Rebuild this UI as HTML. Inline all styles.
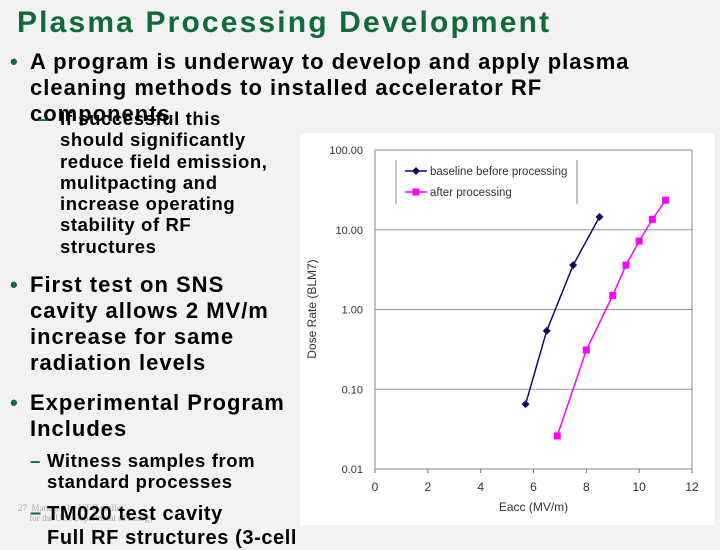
<!DOCTYPE html>
<html><head><meta charset="utf-8"><style>
body{margin:0;width:720px;height:540px;overflow:hidden;background:#f2f2f2;font-family:"Liberation Sans",Arial,sans-serif;position:relative}
.t{position:absolute;white-space:nowrap;font-weight:bold;color:#000}
.b{font-size:22px;line-height:26px;letter-spacing:1px}
.s{font-size:18.5px;line-height:21.3px;letter-spacing:0.6px}
.m{position:absolute;color:#0f6b3a;font-weight:bold}
</style></head><body>
<div class="t" style="left:17px;top:6px;font-size:30px;letter-spacing:2.15px;color:#0f6b3a">Plasma Processing Development</div>
<div class="m" style="left:10px;top:49px;font-size:22px">•</div>
<div class="t b" style="left:30px;top:49px">A program is underway to develop and apply plasma<br>cleaning methods to installed accelerator RF<br>components</div>
<div class="m" style="left:38px;top:108px;font-size:18.5px">–</div>
<div class="t s" style="left:60px;top:108px">If successful this<br>should significantly<br>reduce field emission,<br>mulitpacting and<br>increase operating<br>stability of RF<br>structures</div>
<div class="m" style="left:10px;top:272px;font-size:22px">•</div>
<div class="t b" style="left:30px;top:272px">First test on SNS<br>cavity allows 2 MV/m<br>increase for same<br>radiation levels</div>
<div class="m" style="left:10px;top:390px;font-size:22px">•</div>
<div class="t b" style="left:30px;top:390px">Experimental Program<br>Includes</div>
<div class="m" style="left:30px;top:450px;font-size:18.5px">–</div>
<div class="t s" style="left:47px;top:450px">Witness samples from<br>standard processes</div>
<div class="t" style="left:18px;top:503px;font-size:9px;font-weight:normal;color:#aaa;font-family:'Liberation Serif',serif">27 &nbsp;Managed by UT-Battelle<br>&nbsp;&nbsp;&nbsp;&nbsp; for the U.S. Department of Energy</div>
<div class="m" style="left:30px;top:502px;font-size:20px">–</div>
<div class="t s" style="left:47px;top:502px;font-size:20px;line-height:24px">TM020 test cavity<br>Full RF structures (3-cell</div>
<svg width="720" height="540" style="position:absolute;left:0;top:0" font-family="Liberation Sans,Arial,sans-serif">
<rect x="300" y="133" width="415" height="392" fill="#fff"/>
<g id="g"></g>
</svg>
<script>
const xTicks=[0,2,4,6,8,10,12];
const yTicks=[0.01,0.1,1,10,100];
const yTickLabels=["0.01","0.10","1.00","10.00","100.00"];
const baselineX=[5.7,6.5,7.5,8.5];
const baselineY=[0.065,0.54,3.6,14.5];
const afterX=[6.9,8,9,9.5,10,10.5,11];
const afterY=[0.026,0.31,1.5,3.6,7.2,13.5,23.5];
const L=375,R=692,T=150,B=469;
const sx=v=>L+(v-0)/12*(R-L);
const sy=v=>B-(Math.log10(v)+2)/4*(B-T);
const g=document.getElementById('g');const NS='http://www.w3.org/2000/svg';
function el(t,a,p){const e=document.createElementNS(NS,t);for(const k in a)e.setAttribute(k,a[k]);(p||g).appendChild(e);return e;}
let e;
yTicks.forEach((v,i)=>{
 if(i>0&&i<yTicks.length-1){e=el('line',{x1:L,x2:R,y1:sy(v),y2:sy(v),stroke:'#999','stroke-width':1});
 }
 e=el('text',{x:L-12,y:sy(v)+4,'text-anchor':'end','font-size':11,fill:'#333'});e.textContent=yTickLabels[i];
 
});
xTicks.forEach(v=>{
 e=el('line',{x1:sx(v),x2:sx(v),y1:B,y2:B+4,stroke:'#777'});
 
 e=el('text',{x:sx(v),y:B+22,'text-anchor':'middle','font-size':12,fill:'#333'});e.textContent=v;
 
});
e=el('rect',{x:L,y:T,width:R-L,height:B-T,fill:'none',stroke:'#888'});

e=el('text',{x:(L+R)/2,y:511,'text-anchor':'middle','font-size':12,fill:'#333'});e.textContent='Eacc (MV/m)';

e=el('text',{x:0,y:0,'text-anchor':'middle','font-size':12,fill:'#333',transform:'translate(316,309) rotate(-90)'});e.textContent='Dose Rate (BLM7)';

function series(xs,ys,col,shape,name){
 e=el('polyline',{points:xs.map((x,i)=>sx(x)+','+sy(ys[i])).join(' '),fill:'none',stroke:col,'stroke-width':1.5});
 
 xs.forEach((x,i)=>{const cx=sx(x),cy=sy(ys[i]);
  if(shape==='d')e=el('polygon',{points:`${cx},${cy-4} ${cx+4},${cy} ${cx},${cy+4} ${cx-4},${cy}`,fill:col});
  else e=el('rect',{x:cx-3.5,y:cy-3.5,width:7,height:7,fill:col});
  });
}
series(baselineX,baselineY,'#0c0c66','d','baseline');
series(afterX,afterY,'#ff00ff','s','after');
e=el('line',{x1:396,x2:396,y1:160,y2:204,stroke:'#888'});
e=el('line',{x1:577,x2:577,y1:160,y2:204,stroke:'#888'});
[['baseline before processing','#0c0c66','d',171],['after processing','#ff00ff','s',192]].forEach(([t,c,s,y])=>{
 e=el('line',{x1:405,x2:427,y1:y,y2:y,stroke:c,'stroke-width':1.5});
 if(s==='d')e=el('polygon',{points:`416,${y-4} 420,${y} 416,${y+4} 412,${y}`,fill:c});else e=el('rect',{x:412.5,y:y-3.5,width:7,height:7,fill:c});
 
 e=el('text',{x:430,y:y+4,'font-size':11.5,fill:'#333'});e.textContent=t;
 
});
</script>
</body></html>
